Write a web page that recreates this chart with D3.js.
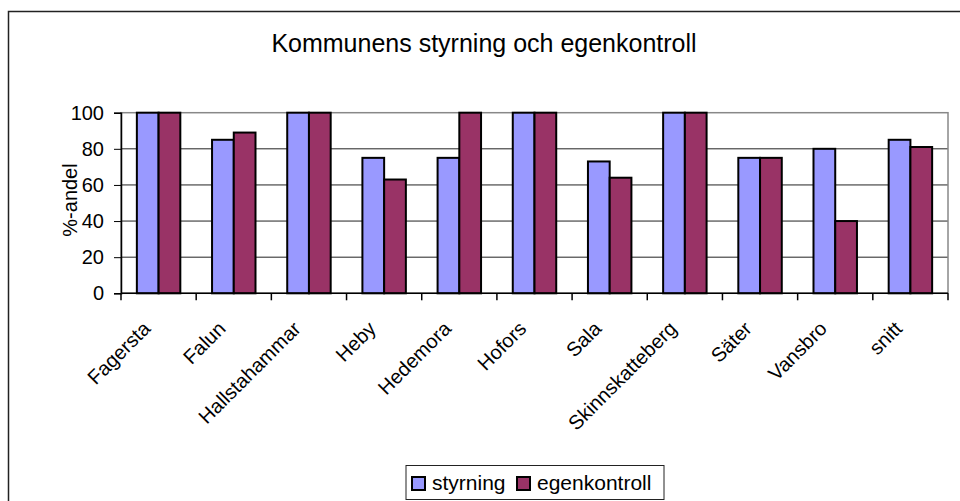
<!DOCTYPE html>
<html>
<head>
<meta charset="utf-8">
<script src="https://cdn.jsdelivr.net/npm/d3@7"></script>
<style>
  body { margin: 0; background: #fff; }
  text { font-family: Arial, "Liberation Sans", sans-serif; fill: #000; }
</style>
</head>
<body>
<div id="chart"></div>
<script>
// data
var kommuner = ["Fagersta", "Falun", "Hallstahammar", "Heby", "Hedemora", "Hofors",
                "Sala", "Skinnskatteberg", "Säter", "Vansbro", "snitt"];
var styrning = [100, 85, 100, 75, 75, 100, 73, 100, 75, 80, 85];
var egenkontroll = [100, 89, 100, 63, 100, 100, 64, 100, 75, 40, 81];
var serier = ["styrning", "egenkontroll"];
var farger = ["#9999ff", "#993366"];
var yTicks = [0, 20, 40, 60, 80, 100];

var W = 960, H = 501;
var plotL = 121, plotR = 948, plotT = 112.7, plotB = 293.3;

var svg = d3.select("#chart").append("svg")
    .attr("width", W).attr("height", H);

// outer frame (runs off the picture right and bottom)
svg.append("rect")
  .attr("x", 8.5).attr("y", 11.5)
  .attr("width", 1000).attr("height", 600)
  .attr("fill", "#fff").attr("stroke", "#222").attr("stroke-width", 1.5);

// title
svg.append("text")
  .attr("x", 484).attr("y", 52)
  .attr("text-anchor", "middle")
  .style("font-size", "25px")
  .text("Kommunens styrning och egenkontroll");

var x = d3.scaleBand().domain(kommuner).range([plotL, plotR]);
var xs = d3.scaleBand().domain(serier).range([0, x.bandwidth()]).paddingOuter(0.73);
var y = d3.scaleLinear().domain([0, 100]).range([plotB, plotT]);

// gridlines
svg.append("g").selectAll("line")
  .data(yTicks.filter(function(d){ return d > 0 && d < 100; }))
  .enter().append("line")
    .attr("x1", plotL).attr("x2", plotR)
    .attr("y1", function(d){ return y(d); }).attr("y2", function(d){ return y(d); })
    .attr("stroke", "#222").attr("stroke-width", 1);

// plot area border
svg.append("rect")
  .attr("x", plotL).attr("y", plotT)
  .attr("width", plotR - plotL).attr("height", plotB - plotT)
  .attr("fill", "none").attr("stroke", "#888").attr("stroke-width", 1.5);

// bars
var vals = [styrning, egenkontroll];
var grp = svg.append("g").selectAll("g")
  .data(kommuner).enter().append("g")
    .attr("transform", function(d){ return "translate(" + x(d) + ",0)"; });
grp.selectAll("rect")
  .data(function(d, i){ return serier.map(function(s, j){ return {s: s, v: vals[j][i], c: farger[j]}; }); })
  .enter().append("rect")
    .attr("x", function(d){ return xs(d.s); })
    .attr("y", function(d){ return y(d.v); })
    .attr("width", xs.bandwidth())
    .attr("height", function(d){ return y(0) - y(d.v); })
    .attr("fill", function(d){ return d.c; })
    .attr("stroke", "#000").attr("stroke-width", 2);

// y axis
var yAxis = svg.append("g")
  .attr("transform", "translate(" + plotL + ",0)")
  .call(d3.axisLeft(y).tickValues(yTicks).tickSize(7).tickPadding(10));
yAxis.select(".domain").attr("stroke", "#000").attr("stroke-width", 1.5);
yAxis.selectAll(".tick line").attr("stroke", "#000");
yAxis.selectAll("text").style("font-size", "20px").attr("fill", "#000");

// x axis line and category ticks
svg.append("line")
  .attr("x1", plotL).attr("x2", plotR).attr("y1", plotB).attr("y2", plotB)
  .attr("stroke", "#000").attr("stroke-width", 1.5);
var bounds = kommuner.map(function(d){ return x(d); }).concat([plotR]);
svg.append("g").selectAll("line")
  .data(bounds).enter().append("line")
    .attr("x1", function(d){ return d; }).attr("x2", function(d){ return d; })
    .attr("y1", plotB).attr("y2", plotB + 7)
    .attr("stroke", "#000").attr("stroke-width", 1.5);

// category labels
svg.append("g").selectAll("text")
  .data(kommuner).enter().append("text")
    .attr("transform", function(d){
      var cx = x(d) + x.bandwidth() / 2 - 7;
      return "translate(" + cx + "," + 330 + ") rotate(-45)";
    })
    .attr("text-anchor", "end")
    .style("font-size", "20px")
    .text(function(d){ return d; });

// y label
svg.append("text")
  .attr("transform", "translate(77,200) rotate(-90)")
  .attr("text-anchor", "middle")
  .style("font-size", "20px")
  .text("%-andel");

// legend
var lg = svg.append("g");
lg.append("rect")
  .attr("x", 406).attr("y", 465.5).attr("width", 258).attr("height", 34)
  .attr("fill", "#fff").attr("stroke", "#222").attr("stroke-width", 1);
var legX = [412, 517];
serier.forEach(function(s, i){
  lg.append("rect")
    .attr("x", legX[i]).attr("y", 477).attr("width", 13).attr("height", 13)
    .attr("fill", farger[i]).attr("stroke", "#000").attr("stroke-width", 2);
  lg.append("text")
    .attr("x", legX[i] + 20).attr("y", 490)
    .style("font-size", "21px")
    .text(s);
});
</script>
</body>
</html>
